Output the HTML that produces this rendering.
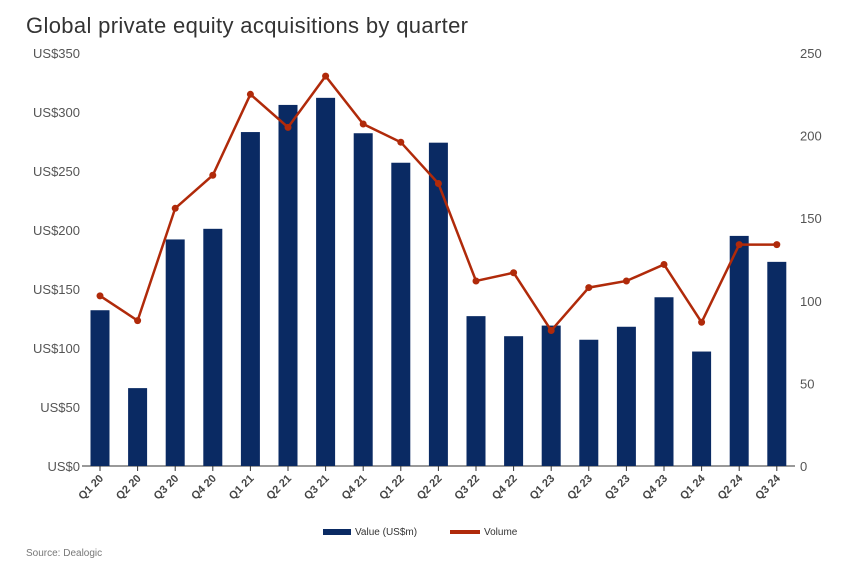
<!DOCTYPE html>
<html><head><meta charset="utf-8">
<style>
body{margin:0;background:#fff;font-family:"Liberation Sans",sans-serif;}
svg text{font-family:"Liberation Sans",sans-serif;}
</style></head>
<body>
<svg id="chart" width="858" height="576" xmlns="http://www.w3.org/2000/svg">
<text x="26" y="33" font-size="22" textLength="442" fill="#333">Global private equity acquisitions by quarter</text>
<g id="axes"></g>
<g id="bars"></g>
<g id="line"></g>
<g>
<rect x="323" y="529" width="28" height="6" fill="#0a2a63"/>
<text x="355" y="535" font-size="10" fill="#333">Value (US$m)</text>
<rect x="450" y="530" width="30" height="4" fill="#b02a0a"/>
<text x="484" y="535" font-size="10" fill="#333">Volume</text>
</g>
<text x="26" y="556" font-size="10" fill="#777">Source: Dealogic</text>
</svg>
<script>
const categories=["Q1 20","Q2 20","Q3 20","Q4 20","Q1 21","Q2 21","Q3 21","Q4 21","Q1 22","Q2 22","Q3 22","Q4 22","Q1 23","Q2 23","Q3 23","Q4 23","Q1 24","Q2 24","Q3 24"];
const valueSeries=[132,66,192,201,283,306,312,282,257,274,127,110,119,107,118,143,97,195,173];
const volumeSeries=[103,88,156,176,225,205,236,207,196,171,112,117,82,108,112,122,87,134,134];
const leftTicks=[0,50,100,150,200,250,300,350];
const rightTicks=[0,50,100,150,200,250];
const NS="http://www.w3.org/2000/svg";
const y0=466,yTop=53,x0=100,step=37.6;
const yL=v=>y0-(v/350)*(y0-yTop);
const yR=v=>y0-(v/250)*(y0-yTop);
const xC=i=>x0+i*step;
function mk(tag,attrs,parent,text){const e=document.createElementNS(NS,tag);for(const k in attrs)e.setAttribute(k,attrs[k]);if(text!==undefined)e.textContent=text;parent.appendChild(e);return e;}
const axes=document.getElementById('axes'),bars=document.getElementById('bars'),line=document.getElementById('line');
leftTicks.forEach(t=>{const e=mk('text',{x:80,y:yL(t)+5,'font-size':13,fill:'#555','text-anchor':'end'},axes,'US$'+t);

});
rightTicks.forEach(t=>{const e=mk('text',{x:800,y:yR(t)+5,'font-size':13,fill:'#555'},axes,String(t));

});
const ax=mk('line',{x1:82,x2:795,y1:y0,y2:y0,stroke:'#333','stroke-width':1},axes);


categories.forEach((c,i)=>{
const tk=mk('line',{x1:xC(i),x2:xC(i),y1:y0,y2:y0+5,stroke:'#333'},axes);


const x=xC(i)+4,y=y0+13;
const t=mk('text',{x:x,y:y,'font-size':11,'font-weight':'bold',fill:'#444','text-anchor':'end',transform:`rotate(-45 ${x} ${y})`},axes,c);


const b=mk('rect',{x:xC(i)-9.5,y:yL(valueSeries[i]),width:19,height:y0-yL(valueSeries[i]),fill:'#0a2a63'},bars);


});
const pts=volumeSeries.map((v,i)=>xC(i)+','+yR(v)).join(' ');
const pl=mk('polyline',{points:pts,fill:'none',stroke:'#b02a0a','stroke-width':2.5},line);


volumeSeries.forEach((v,i)=>{const c=mk('circle',{cx:xC(i),cy:yR(v),r:3.5,fill:'#b02a0a'},line);

});
</script>
</body></html>
